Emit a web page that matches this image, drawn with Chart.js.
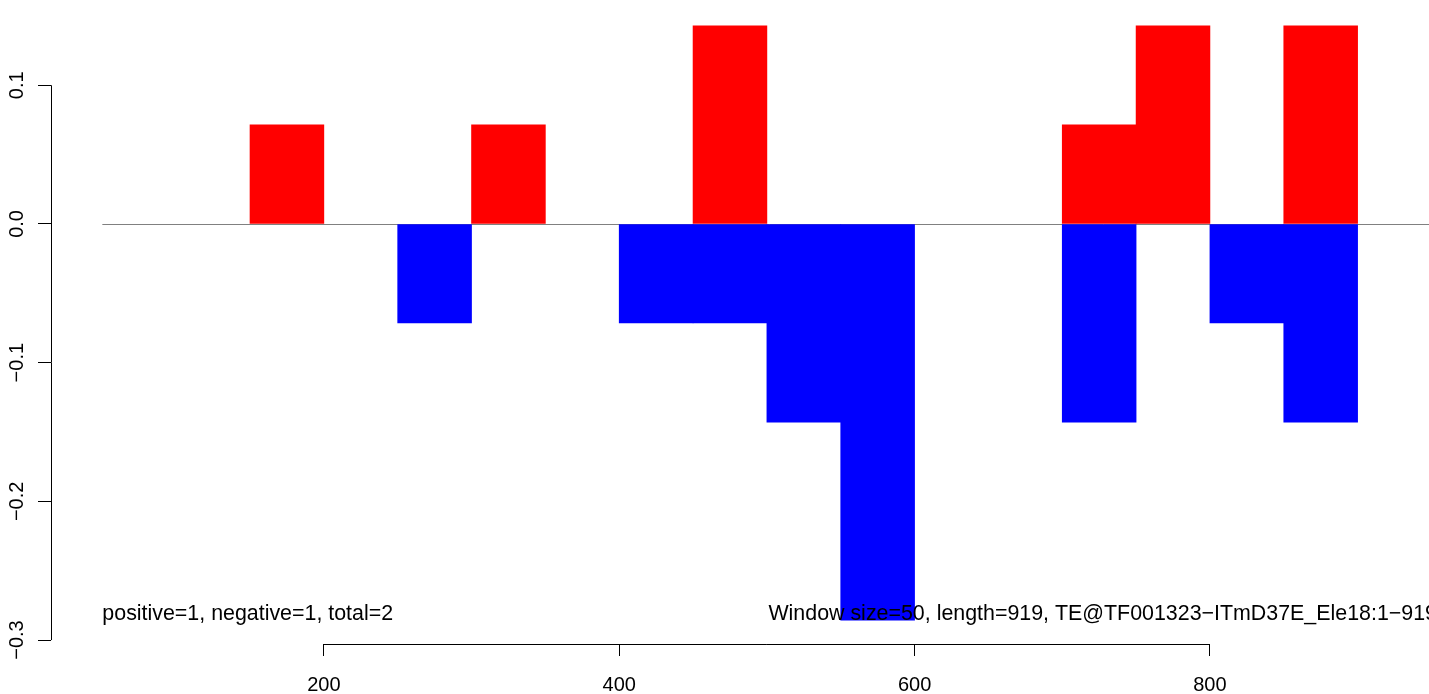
<!DOCTYPE html>
<html>
<head>
<meta charset="utf-8">
<script src="https://cdn.jsdelivr.net/npm/chart.js@4.4.1/dist/chart.umd.min.js"></script>
<style>
  html, body { margin:0; padding:0; background:#fff; overflow:hidden; }
  #wrap { width:1437px; height:694px; }
</style>
</head>
<body>
<div id="wrap"><canvas id="c"></canvas></div>
<script>
// window centres (window size 50)
const binCenters = [75, 125, 175, 225, 275, 325, 375, 425, 475, 525, 575, 625, 675, 725, 775, 825, 875, 925];
const positiveVals = [0, 0, 0.0714, 0, 0, 0.0714, 0, 0, 0.1429, 0, 0, 0, 0, 0.0714, 0.1429, 0, 0.1429, 0];
const negativeVals = [0, 0, 0, 0, -0.0714, 0, 0, -0.0714, -0.0714, -0.1429, -0.2857, 0, 0, -0.1429, 0, -0.0714, -0.1429, 0];
const xTicks = [200, 400, 600, 800];
const yTicks = [-0.3, -0.2, -0.1, 0, 0.1];
const seqStart = 50, seqEnd = 919;
const leftNote = 'positive=1, negative=1, total=2';
const rightNote = 'Window size=50, length=919, TE@TF001323\u2212ITmD37E_Ele18:1\u2212919';

const FONT = '"Liberation Sans", Arial, sans-serif';
const fmt = v => (v < 0 ? '\u2212' : '') + Math.abs(v).toFixed(1);

// R style 4% padding of axis ranges
const allY = positiveVals.concat(negativeVals);
const yLo = Math.min(...allY), yHi = Math.max(...allY);
const yPad = (yHi - yLo) * 0.04, xPad = (seqEnd - seqStart) * 0.04;

const rDecor = {
  id: 'rDecor',
  beforeDatasetsDraw(chart) {
    const { ctx, chartArea, scales: { x, y } } = chart;
    ctx.save();
    ctx.strokeStyle = '#808080'; ctx.lineWidth = 1;
    const y0 = Math.round(y.getPixelForValue(0)) + 0.5;
    ctx.beginPath(); ctx.moveTo(x.getPixelForValue(seqStart), y0); ctx.lineTo(chartArea.right, y0); ctx.stroke();
    ctx.restore();
  },
  afterDatasetsDraw(chart) {
    const { ctx, chartArea, scales: { x, y } } = chart;
    ctx.save();
    ctx.strokeStyle = '#000'; ctx.lineWidth = 1;
    const ax = Math.round(chartArea.left) + 0.5, ay = Math.round(chartArea.bottom) + 0.5;
    ctx.beginPath();
    ctx.moveTo(ax, y.getPixelForValue(yTicks[0])); ctx.lineTo(ax, y.getPixelForValue(yTicks[yTicks.length - 1]));
    ctx.moveTo(x.getPixelForValue(xTicks[0]), ay); ctx.lineTo(x.getPixelForValue(xTicks[xTicks.length - 1]), ay);
    ctx.stroke();

    ctx.fillStyle = '#000';
    ctx.font = '20px ' + FONT;
    yTicks.forEach(v => {
      ctx.save();
      ctx.translate(23, y.getPixelForValue(v));
      ctx.rotate(-Math.PI / 2);
      ctx.textAlign = 'center'; ctx.textBaseline = 'alphabetic';
      ctx.fillText(fmt(v), 0, 0);
      ctx.restore();
    });

    ctx.font = '21.4px ' + FONT;
    ctx.textBaseline = 'middle';
    const ty = y.getPixelForValue(-0.2812);
    ctx.textAlign = 'left';
    ctx.fillText(leftNote, x.getPixelForValue(seqStart), ty);
    ctx.textAlign = 'right';
    ctx.fillText(rightNote, chartArea.right, ty);
    ctx.restore();
  }
};

const toBars = vals => binCenters.map((c, i) => ({ x: c, y: vals[i] === 0 ? null : vals[i] }));

new Chart(document.getElementById('c'), {
  type: 'bar',
  data: {
    datasets: [
      { label: 'positive', data: toBars(positiveVals), backgroundColor: '#ff0000', borderWidth: 0, grouped: false, barPercentage: 1, categoryPercentage: 1 },
      { label: 'negative', data: toBars(negativeVals), backgroundColor: '#0000ff', borderWidth: 0, grouped: false, barPercentage: 1, categoryPercentage: 1 },
    ],
  },
  options: {
    responsive: true, maintainAspectRatio: false, animation: false,
    layout: { padding: { top: 2, right: 0, left: 1, bottom: 0 } },
    plugins: { legend: { display: false }, tooltip: { enabled: false } },
    scales: {
      x: {
        type: 'linear', min: seqStart - xPad, max: seqEnd + xPad, offset: false,
        afterBuildTicks: s => { s.ticks = xTicks.map(v => ({ value: v })); },
        afterFit: s => { s.height = 50; },
        grid: { offset: false, drawOnChartArea: false, drawTicks: true, tickLength: 12, tickColor: '#000', color: '#000' },
        border: { display: false },
        ticks: { color: '#000', font: { size: 20, family: FONT }, padding: 17, maxRotation: 0, autoSkip: false },
      },
      y: {
        type: 'linear', min: yLo - yPad, max: yHi + yPad,
        afterBuildTicks: s => { s.ticks = yTicks.map(v => ({ value: v })); },
        afterFit: s => { s.width = 50; },
        grid: { drawOnChartArea: false, drawTicks: true, tickLength: 13, tickColor: '#000', color: '#000' },
        border: { display: false },
        ticks: { display: false },
      },
    },
  },
  plugins: [rDecor],
});
</script>
</body>
</html>
